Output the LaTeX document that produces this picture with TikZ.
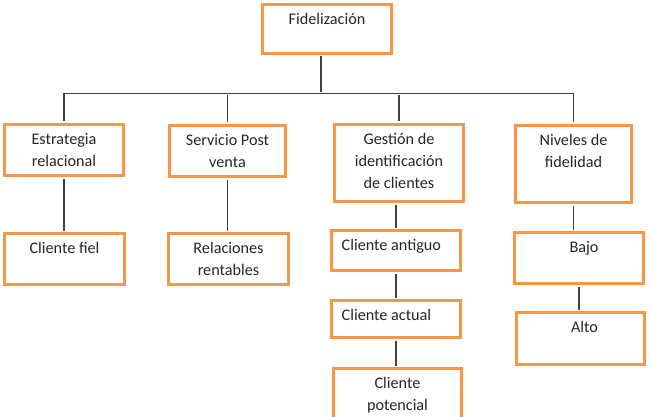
\documentclass[tikz,border=0pt]{standalone}
\usepackage{fontspec}
\setmainfont{Carlito}
\usepackage{xcolor}
\usetikzlibrary{positioning}
\definecolor{naranja}{RGB}{245,150,72}
\definecolor{gris}{RGB}{64,64,64}

\begin{document}
\begin{tikzpicture}[
  x=1pt, y=-1pt,
  caja/.style={rectangle, draw=naranja, line width=3pt, fill=white},
  texto/.style={font=\fontsize{16.2}{22}\selectfont, text=black!85,
    align=center, anchor=base, inner sep=0pt},
  linea/.style={draw=gris, line width=1.2pt,
    shorten <=1.5pt, shorten >=1.5pt}
]
\useasboundingbox (0,0) rectangle (650,417);

% cajas
\node (fidel) [caja, minimum width=129pt, minimum height=49pt] at (327,29)    {};
\node (estr)  [caja, minimum width=119pt, minimum height=51pt] at (64,150)    {};
\node (serv)  [caja, minimum width=116pt, minimum height=51pt] at (227.5,151) {};
\node (gest)  [caja, minimum width=129pt, minimum height=77pt] at (399,163)   {};
\node (nivel) [caja, minimum width=116pt, minimum height=77pt] at (573.5,164) {};
\node (fiel)  [caja, minimum width=120pt, minimum height=51pt] at (64.5,259)  {};
\node (rel)   [caja, minimum width=120pt, minimum height=51pt] at (228.5,259) {};
\node (ant)   [caja, minimum width=129pt, minimum height=40pt] at (396,250.5) {};
\node (act)   [caja, minimum width=129pt, minimum height=37pt] at (396,319)   {};
\node (pot)   [caja, minimum width=128pt, minimum height=57pt] at (397.5,397) {};
\node (bajo)  [caja, minimum width=129pt, minimum height=51pt] at (579,258)   {};
\node (alto)  [caja, minimum width=128pt, minimum height=52pt] at (580.5,338.5) {};

% textos (anchor base = ultima linea)
\node (fidel-t) [texto] at ([yshift=-21.5pt]fidel.north) {Fidelización};
\node (estr-t)  [texto] at ([yshift=-43.5pt]estr.north)  {Estrategia\\relacional};
\node (serv-t)  [texto] at ([yshift=-43.5pt]serv.north)  {Servicio Post\\venta};
\node (gest-t)  [texto] at ([yshift=-65.5pt]gest.north)  {Gestión de\\identificación\\de clientes};
\node (nivel-t) [texto] at ([yshift=-43.5pt]nivel.north) {Niveles de\\fidelidad};
\node (fiel-t)  [texto] at ([yshift=-21.5pt]fiel.north)  {Cliente fiel};
\node (rel-t)   [texto] at ([yshift=-43.5pt]rel.north)   {Relaciones\\rentables};
\node (ant-t)   [texto, anchor=base west] at ([xshift=11.5pt, yshift=-21.5pt]ant.north west) {Cliente antiguo};
\node (act-t)   [texto, anchor=base west] at ([xshift=11.5pt, yshift=-21.5pt]act.north west) {Cliente actual};
\node (pot-t)   [texto] at ([yshift=-43.5pt]pot.north)   {Cliente\\potencial};
\node (bajo-t)  [texto] at ([xshift=5pt, yshift=-21.5pt]bajo.north) {Bajo};
\node (alto-t)  [texto] at ([xshift=4pt, yshift=-21.5pt]alto.north) {Alto};

% conectores
\coordinate (bus) at ([xshift=-6pt, yshift=-38.5pt]fidel.south);
\draw[linea] ([xshift=-6pt]fidel.south) -- (bus);
\draw[linea] (estr.north) |- (bus -| nivel.north) -- (nivel.north);
\draw[linea] (bus -| serv.north) -- (serv.north);
\draw[linea] (bus -| gest.north) -- (gest.north);

\draw[linea] (estr.south) -- (estr.south |- fiel.north);
\draw[linea] (serv.south) -- (serv.south |- rel.north);
\draw[linea] (ant.north |- gest.south) -- (ant.north);
\draw[linea] (ant.south) -- (ant.south |- act.north);
\draw[linea] (act.south) -- (act.south |- pot.north);
\draw[linea] (nivel.south) -- (nivel.south |- bajo.north);
\draw[linea] (bajo.south) -- (bajo.south |- alto.north);

\end{tikzpicture}
\end{document}
